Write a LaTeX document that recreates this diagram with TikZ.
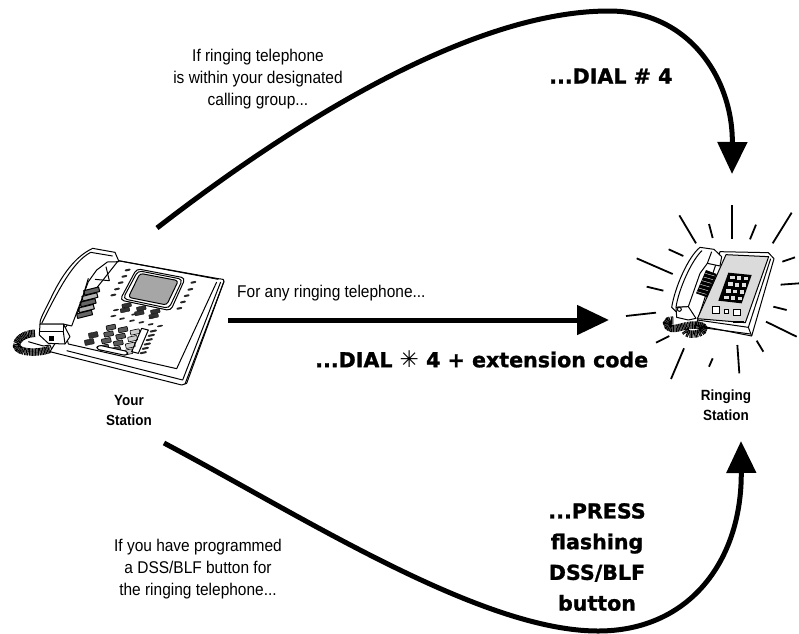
\documentclass[tikz,border=0pt]{standalone}
\usepackage{fontspec}
\setmainfont{Liberation Sans}
\newfontfamily\narrowf{Liberation Sans}[FakeStretch=0.91]
\newfontfamily\heavy{DejaVu Sans}[BoldFont={DejaVu Sans Bold},BoldFeatures={FakeBold=1.2}]
\newfontfamily\symb{DejaVu Sans}
\usetikzlibrary{arrows.meta}
\tikzset{
  arrowline/.style={line width=5pt,-{Triangle[length=32pt,width=29pt]}},
  note/.style={font=\fontsize{17}{22}\selectfont\narrowf,align=center,inner sep=0pt},
  caption/.style={font=\fontsize{14.8}{20}\selectfont\narrowf\bfseries,align=center,inner sep=0pt},
  big/.style={font=\fontsize{20.6}{30.7}\selectfont\heavy\bfseries,align=center,inner sep=0pt},
  ln/.style={line width=1pt,line join=round},
  ray/.style={line width=1.8pt},
  key/.style={draw=black,line width=.3pt,rounded corners=.6pt},
  coil/.style={line width=7.5pt,dash pattern=on 1pt off .5pt}
}
\begin{document}
\begin{tikzpicture}[x=1pt,y=-1pt]
\useasboundingbox (0,0) rectangle (799,633);
% ---- your station
\begin{scope}[shift={(0,220)},scale=1/3]
 \node[inner sep=0pt,minimum size=0pt] (yourphone) at (340,290) {};
 \filldraw[fill=white,ln] (355,122)--(655,176)..controls(672,178)..(672,184)--(560,490)--(545,495)--(150,395)--(190,330)--cycle;
 \draw[ln] (662,186)--(548,480)--(200,392);
 \draw[ln] (650,186)--(530,446)--(205,372);
 \draw[ln] (672,184)--(555,492);
 \draw[ln] (355,122)--(655,178);
 % screen
 \draw[ln,rounded corners=4pt,fill=white] (410,146)--(556,174)--(512,272)--(360,240)--cycle;
 \draw[ln,rounded corners=4pt,fill=white] (414,152)--(548,178)--(507,265)--(369,236)--cycle;
 \filldraw[fill=black!35,ln,rounded corners=3pt] (420,160)--(535,182)--(500,255)--(385,232)--cycle;
 % side keys
 \foreach \a/\b in {383/150,373/169,362/188,351/207,340/225,580/187,571/208,560/227,549/246,538/265}
   \fill[black!85,rotate around={12:(\a,\b)},rounded corners=1pt] (\a-9,\b-3) rectangle (\a+9,\b+3);
 % soft keys rows
 \foreach \a/\b in {380/256,424/265,466/274,375/270,418/279,461/288}
   \draw[key,fill=black!80,rotate around={12:(\a,\b)}] (\a-14,\b-6) rectangle (\a+14,\b+6);
 \foreach \a/\b in {348/270,402/283,455/293,340/288,366/296,396/302,424/307,452/313,480/318}
   \fill[black!85,rotate around={12:(\a,\b)},rounded corners=1pt] (\a-9,\b-2.5) rectangle (\a+9,\b+2.5);
 % keypad
 \foreach \i/\g in {0/65,1/65,2/20} \foreach \j in {0,1,2,3}
   \draw[key,line width=.6pt,fill=black!\g,rotate around={12:(333+\i*36-\j*7,322+\i*7+\j*20)}]
     (333+\i*36-\j*7-14,322+\i*7+\j*20-7) rectangle (333+\i*36-\j*7+14,322+\i*7+\j*20+7);
 \foreach \j in {0,1,2,3,4,5}
   \fill[black!85,rotate around={12:(460-\j*6,333+\j*13)},rounded corners=1pt] (460-\j*6-11,333+\j*13-3) rectangle (460-\j*6+11,333+\j*13+3);
 \draw[ln] (425,325)--(445,330)--(415,400)--(395,395)--cycle;
 \foreach \a/\b in {280/345,268/366} \draw[key,fill=black!80,rotate around={12:(\a,\b)}] (\a-14,\b-8) rectangle (\a+14,\b+8);
 \draw[ln,rounded corners=3pt,fill=white] (295,375)--(385,395)--(380,407)--(288,387)--cycle;
 % handset
 \filldraw[fill=white,ln] (278,85)--(345,97)--(357,125)--(322,126)--(290,150)--(265,185)--(215,318)--(190,312)--(120,312)
   ..controls(118,300)and(135,270)..(150,240)..controls(185,165)and(225,110)..(278,85)--cycle;
 \draw[ln] (272,97)--(338,108);
 \draw[ln] (272,97)..controls(220,125)and(180,200)..(125,310);
 \draw[ln] (318,140)--(328,182)--(285,178);
 \draw[ln] (190,312)--(205,372);
 \filldraw[fill=white,ln] (120,312)--(190,312)--(210,350)--(195,372)--(145,370)--(118,345)--cycle;
 \draw[ln] (118,335)--(190,335)--(190,312);
 \draw[ln] (190,335)--(195,372);
 \fill[black] (147,348) rectangle (162,364);
 % cradle coil
 \foreach \k/\g in {0/60,1/30,2/60,3/30,4/60}
   \filldraw[fill=black!\g,ln,rotate around={14:(268,214+\k*14)}] (252-\k*6,208+\k*16) rectangle (298-\k*6,222+\k*16);
 \draw[ln] (235,275)--(265,175);
 % cord
 \draw[coil] (105,340)..controls(75,340)and(48,358)..(50,378)..controls(54,398)and(110,402)..(150,388);
 \draw[ln] (85,365)--(130,378)--(150,375)--(155,388);
\end{scope}
% ---- ringing station
\begin{scope}[shift={(620,210)},scale=1/3]
 \node[inner sep=0pt,minimum size=0pt] (ringphone) at (310,250) {};
 \foreach \a/\b/\c/\d in {178/16/228/100,267/42/278/84,335/-14/335/88,408/44/390/88,515/8/458/100,487/155/525/142,482/224/537/220,460/290/500/300,438/335/530/380,410/392/430/425,352/405/358/490,278/445/267/470,192/415/153/507,148/378/108/398,108/308/18/318,130/242/80/230,158/192/50/145,190/138/146/118}
   \draw[ray] (\a,\b)--(\c,\d);
 \filldraw[fill=white,ln] (300,125)--(445,128)--(462,146)--(395,378)--(228,345)--cycle;
 \filldraw[fill=black!14,ln] (318,134)--(446,140)--(376,338)--(232,326)--cycle;
 \draw[ln] (232,330)--(385,352)--(395,378);
 \draw[ln] (452,146)--(385,352);
 \draw[ln] (228,345)--(240,352)--(392,372);
 % keypad
 \fill[black] (325,188)--(395,195)--(365,280)--(295,272)--cycle;
 \foreach \i in {0,1,2} \foreach \j in {0,1,2,3}
   \fill[black!12] (331+\i*20-\j*6,197+\i*1.5+\j*20) rectangle (344+\i*20-\j*6,208+\i*1.5+\j*20);
 % buttons
 \foreach \a/\b/\s in {288/300/10,318/303/6,350/307/10}
   \filldraw[fill=white,line width=1pt] (\a-\s,\b-\s) rectangle (\a+\s,\b+\s);
 \fill[black] (338,332) rectangle (372,340);
 % handset
 \filldraw[fill=white,ln] (240,112)--(282,118)--(305,140)--(300,168)--(262,160)--(240,190)--(205,290)--(195,312)--(168,305)--(155,292)
   ..controls(165,230)and(205,140)..(240,112)--cycle;
 \draw[ln] (246,122)..controls(215,150)and(175,240)..(168,292);
 \draw[ln] (168,292)--(205,290);
 \draw[ln] (262,160)--(275,125);
 \fill[black] (258,180)--(290,192)--(262,262)--(228,250)--cycle;
 \foreach \k in {0,1,2,3,4,5} \draw[white,line width=.4pt] (256-\k*5,190+\k*11)--(284-\k*5,198+\k*11);
 \filldraw[fill=white,ln] (168,292)--(205,290)--(228,325)--(205,330)--(170,322)--cycle;
 \draw[ln] (178,298) circle (6);
 % cords
 \draw[coil] (160,330)..controls(135,328)and(135,350)..(155,355)..controls(175,358)and(190,345)..(225,345)..controls(258,345)and(258,362)..(235,370)..controls(215,376)and(197,372)..(195,362);
\end{scope}
% ---- connectors
\coordinate (a1s) at (157,228);
\coordinate (a1e) at (732,174);
\coordinate (a2s) at (228,320);
\coordinate (a2e) at (609,320);
\coordinate (a3s) at (164,443);
\coordinate (a3e) at (741,441);
\draw[arrowline] (a1s)..controls(290,125)and(470,11)..(609,11)..controls(690,11)and(733,80)..(a1e);
\draw[arrowline] (a2s)--(a2e);
\draw[arrowline] (a3s)..controls(300,515)and(480,631)..(598,631)..controls(690,631)and(742,560)..(a3e);
% ---- labels
\node[note] (t1) at (258,79) {If ringing telephone\\is within your designated\\calling group...};
\node[note,anchor=west] (t2) at (237,293) {For any ringing telephone...};
\node[note] (t3) at (198,569) {If you have programmed\\a DSS/BLF button for\\the ringing telephone...};
\node[big,anchor=west] (b1) at (549,76) {...DIAL \# 4};
\node[big,anchor=west] (b2) at (315,359) {...DIAL {\symb\fontsize{23}{23}\selectfont\mdseries ✳} 4 + extension code};
\node[big] (b3) at (597,557) {...PRESS\\flashing\\DSS/BLF\\button};
\node[caption] (c1) at (129,410) {Your\\Station};
\node[caption] (c2) at (726,405) {Ringing\\Station};
\end{tikzpicture}
\end{document}
